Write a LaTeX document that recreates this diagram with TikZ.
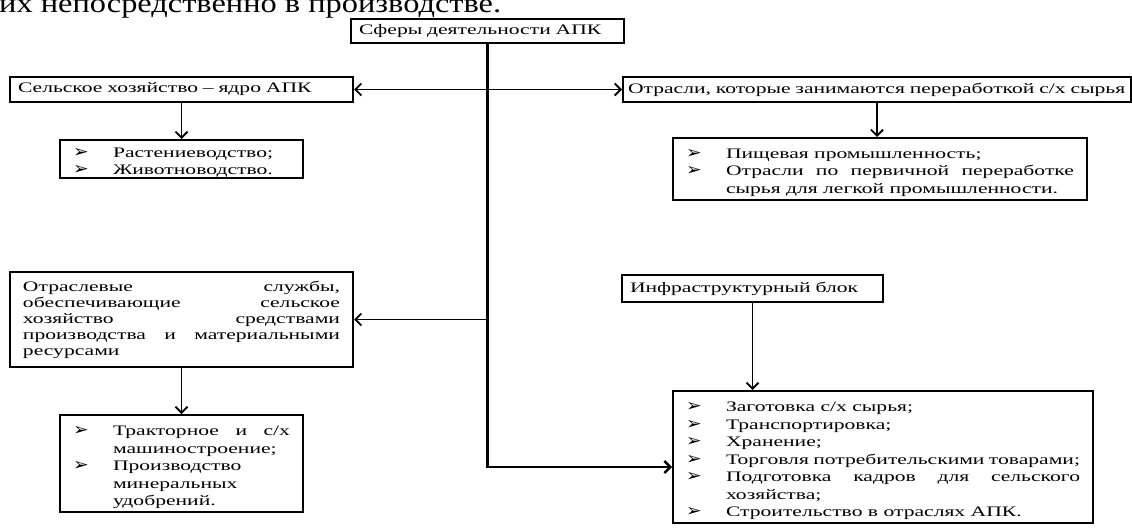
\documentclass[tikz,border=0pt]{standalone}
\usepackage{fontspec}
\setmainfont{Liberation Serif}[FakeStretch=1.49]
\newfontfamily\leadfont{Liberation Serif}[FakeStretch=1.2]
\newfontfamily\symfont{DejaVu Sans}[FakeStretch=1.1]
\usetikzlibrary{positioning,arrows.meta}
% one list item with a hanging indent
\newcommand{\bitem}[1]{\par\hangindent=40pt\hangafter=1\noindent
  \makebox[40pt][l]{\smash{\symfont\fontsize{17}{15}\selectfont\char"27A2}}#1}

\begin{document}
\begin{tikzpicture}[x=1pt,y=-1pt,
    >={Straight Barb[length=6pt,width=12pt]},
    box/.style={draw,line width=2pt,anchor=north west,inner xsep=8pt,inner ysep=3pt,
      align=left,font=\fontsize{14.5}{16}\selectfont},
    listbox/.style={box,inner xsep=13pt,align=justify,font=\fontsize{14.5}{17.5}\selectfont},
    link/.style={line width=1.8pt},
    trunk/.style={line width=2.4pt}]
    \useasboundingbox (0,0) rectangle (1132,532);
    \clip (0,0) rectangle (1132,532);

    % text of the page above the scheme
    \node[anchor=base west,inner sep=0pt,font=\leadfont\fontsize{27}{30}\selectfont] (lead) at (-1,13)
      {их непосредственно в производстве.};

    \node[box,text width=257pt,minimum height=24pt] (apk) at (350,18) {Сферы деятельности АПК};

    \node[box,text width=327pt,minimum height=25pt] (selhoz) at (9,76) {Сельское хозяйство – ядро АПК};
    \node[box,inner xsep=5pt,text width=498pt,minimum height=25pt] (pererab) at (622,76)
      {Отрасли, которые занимаются переработкой с/х сырья};

    \node[listbox,text width=217pt,inner ysep=1pt,font=\fontsize{14.5}{16.5}\selectfont] (rast) at (59,139) {%
      \bitem{Растениеводство;}
      \bitem{Животноводство.}\par};
    \node[listbox,text width=388pt] (pisch) at (672,137) {%
      \bitem{Пищевая промышленность;}
      \bitem{Отрасли по первичной переработке сырья для легкой промышленности.}\par};

    \node[box,inner xsep=13pt,align=justify,text width=317pt,minimum height=95pt] (sluzh) at (9,271)
      {Отраслевые службы, обеспечивающие сельское хозяйство средствами производства и материальными ресурсами};
    \node[box,text width=245pt,minimum height=27pt] (infra) at (621,274) {Инфраструктурный блок};

    \node[listbox,text width=217pt] (trakt) at (59,414) {%
      \bitem{Тракторное и с/х машиностроение;}
      \bitem{Производство минеральных удобрений.}\par};
    \node[listbox,text width=394pt] (zagot) at (672,390) {%
      \bitem{Заготовка с/х сырья;}
      \bitem{Транспортировка;}
      \bitem{Хранение;}
      \bitem{Торговля потребительскими товарами;}
      \bitem{Подготовка кадров для сельского хозяйства;}
      \bitem{Строительство в отраслях АПК.}\par\vspace*{40pt}};

    \coordinate (tbend) at (487,467);

    \draw[link,<->] (selhoz.east) -- (pererab.west);
    \draw[trunk,->] (apk.south) -- (apk.south |- tbend) -- (tbend -| zagot.west);
    \draw[link,->] (apk.south |- sluzh.east) -- (sluzh.east);
    \draw[link,->] (selhoz.south) -- (selhoz.south |- rast.north);
    \draw[link,->] (pererab.south) -- (pererab.south |- pisch.north);
    \draw[link,->] (sluzh.south) -- (sluzh.south |- trakt.north);
    \draw[link,->] (infra.south) -- (infra.south |- zagot.north);
  \end{tikzpicture}
\end{document}
